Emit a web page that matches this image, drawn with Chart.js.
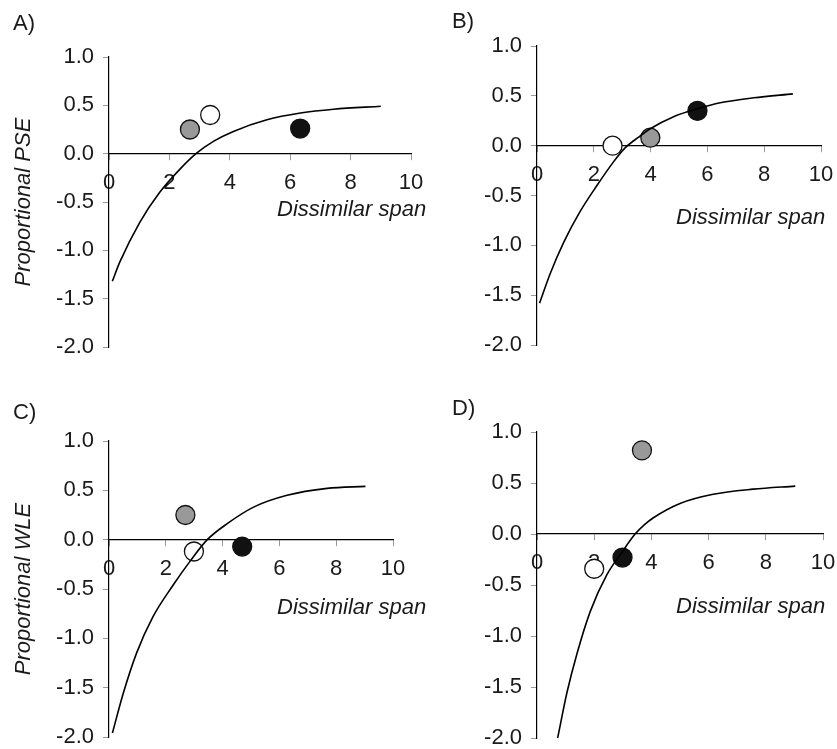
<!DOCTYPE html>
<html>
<head>
<meta charset="utf-8">
<script src="https://cdn.jsdelivr.net/npm/chart.js@4.4.1/dist/chart.umd.min.js"></script>
<style>
body { margin: 0; background: #fff; }
#fig { position: relative; width: 837px; height: 749px; overflow: hidden; font-family: "Liberation Sans", Arial, sans-serif; color: #1a1a1a; }
#fig canvas { position: absolute; }
.tag, .span { position: absolute; font-size: 22px; line-height: 1; white-space: nowrap; }
.span { font-style: italic; }
</style>
</head>
<body>
<div id="fig">
  <canvas id="cA" width="430" height="370" style="left:0;top:0"></canvas>
  <canvas id="cB" width="417" height="370" style="left:420px;top:0"></canvas>
  <canvas id="cC" width="420" height="379" style="left:0;top:370px"></canvas>
  <canvas id="cD" width="417" height="379" style="left:420px;top:370px"></canvas>
  <div class="tag" style="left:13px;top:12px">A)</div>
  <div class="tag" style="left:452px;top:10px">B)</div>
  <div class="tag" style="left:13px;top:401px">C)</div>
  <div class="tag" style="left:452px;top:397px">D)</div>
  <div class="span" style="left:277px;top:198px">Dissimilar span</div>
  <div class="span" style="left:676px;top:206px">Dissimilar span</div>
  <div class="span" style="left:277px;top:596px">Dissimilar span</div>
  <div class="span" style="left:676px;top:595px">Dissimilar span</div>
</div>
<script>
// panels A, B, C, D
const panelIds = ['cA', 'cB', 'cC', 'cD']
const yTitles = ['Proportional PSE', '', 'Proportional WLE', '']

// fitted curves
const aCurveX = [0.11, 0.36, 1.02, 1.68, 2.35, 2.88, 3.47, 4.12, 5.23, 6.34, 7.44, 9.0]
const aCurveY = [-1.32, -1.12, -0.71, -0.40, -0.16, 0, 0.13, 0.23, 0.35, 0.42, 0.46, 0.49]
const bCurveX = [0.09, 0.47, 0.94, 1.52, 2.11, 2.70, 3.11, 3.55, 3.99, 4.81, 5.65, 6.45, 7.63, 9.01]
const bCurveY = [-1.58, -1.28, -0.97, -0.66, -0.40, -0.16, -0.02, 0.08, 0.17, 0.29, 0.37, 0.43, 0.48, 0.52]
const cCurveX = [0.12, 0.50, 0.97, 1.55, 2.26, 2.85, 3.46, 4.15, 5.09, 6.27, 7.68, 9.03]
const cCurveY = [-1.96, -1.56, -1.15, -0.78, -0.46, -0.22, 0, 0.16, 0.33, 0.45, 0.52, 0.54]
const dCurveX = [0.72, 1.05, 1.40, 1.86, 2.44, 2.99, 3.43, 3.75, 4.07, 5.00, 6.16, 7.56, 9.03]
const dCurveY = [-2.0, -1.55, -1.17, -0.76, -0.40, -0.17, 0, 0.09, 0.16, 0.30, 0.39, 0.44, 0.47]

// the three groups, one value per panel (A, B, C, D)
const greyX = [2.68, 3.99, 2.69, 3.67]
const greyY = [0.25, 0.08, 0.25, 0.82]
const whiteX = [3.35, 2.66, 2.99, 2.00]
const whiteY = [0.40, 0.00, -0.12, -0.34]
const blackX = [6.33, 5.65, 4.69, 2.99]
const blackY = [0.26, 0.35, -0.07, -0.23]

const xTicks = [0, 2, 4, 6, 8, 10]
const yTicks = [-2.0, -1.5, -1.0, -0.5, 0.0, 0.5, 1.0]

// chart area inside each canvas: y axis width, padding top/right/bottom
const boxes = [
    {yW: 109, top: 57, right: 19, bottom: 23},
    {yW: 117, top: 46, right: 16, bottom: 25},
    {yW: 109, top: 71, right: 27, bottom: 12},
    {yW: 117, top: 62, right: 14, bottom: 9}
]

const curves = [[aCurveX, aCurveY], [bCurveX, bCurveY], [cCurveX, cCurveY], [dCurveX, dCurveY]]

const tickFont = {family: '"Liberation Sans", Arial, sans-serif', size: 22}

function dot(x, y, fill, i){
    return {
        data: [{x: x[i], y: y[i]}],
        pointRadius: 9.5,
        pointBackgroundColor: fill,
        pointBorderColor: '#111',
        pointBorderWidth: 1.3,
        order: 1
    }
}

function drawPanel(i){
    let [cx, cy] = curves[i]
    let curve = cx.map((x, k) => ({x: x, y: cy[k]}))
    let b = boxes[i]
    new Chart(document.getElementById(panelIds[i]), {
        type: 'scatter',
        data: {
            datasets: [
                {
                    data: curve,
                    showLine: true,
                    borderColor: '#000',
                    borderWidth: 1.6,
                    pointRadius: 0,
                    cubicInterpolationMode: 'monotone',
                    order: 0
                },
                dot(greyX, greyY, '#999999', i),
                dot(whiteX, whiteY, '#ffffff', i),
                dot(blackX, blackY, '#111111', i)
            ]
        },
        options: {
            responsive: false,
            animation: false,
            devicePixelRatio: 1,
            layout: {padding: {left: 0, top: b.top, right: b.right, bottom: b.bottom}},
            plugins: {legend: {display: false}, tooltip: {enabled: false}},
            scales: {
                x: {
                    type: 'linear',
                    position: {y: 0},
                    min: 0,
                    max: 10,
                    afterBuildTicks: s => { s.ticks = xTicks.map(v => ({value: v})) },
                    afterFit: s => { s.height = 0; s.paddingLeft = 0; s.paddingRight = 0 },
                    grid: {drawOnChartArea: false, tickLength: 6, tickColor: '#9a9a9a'},
                    border: {color: '#000', width: 1.2},
                    ticks: {color: '#1a1a1a', font: tickFont, padding: 10, maxRotation: 0}
                },
                y: {
                    type: 'linear',
                    min: -2,
                    max: 1,
                    afterBuildTicks: s => { s.ticks = yTicks.map(v => ({value: v})) },
                    afterFit: s => { s.width = b.yW; s.paddingTop = 0; s.paddingBottom = 0 },
                    grid: {drawOnChartArea: false, tickLength: 6, tickColor: '#9a9a9a'},
                    border: {color: '#000', width: 1.2},
                    ticks: {color: '#1a1a1a', font: tickFont, padding: 9, callback: v => v.toFixed(1)},
                    title: {
                        display: yTitles[i] != '',
                        text: yTitles[i],
                        color: '#1a1a1a',
                        font: {family: '"Liberation Sans", Arial, sans-serif', size: 22, style: 'italic'},
                        padding: {top: 11, bottom: 0}
                    }
                }
            }
        }
    })
}

for(let i = 0; i < 4; i++){
    drawPanel(i)
}
</script>
</body>
</html>
